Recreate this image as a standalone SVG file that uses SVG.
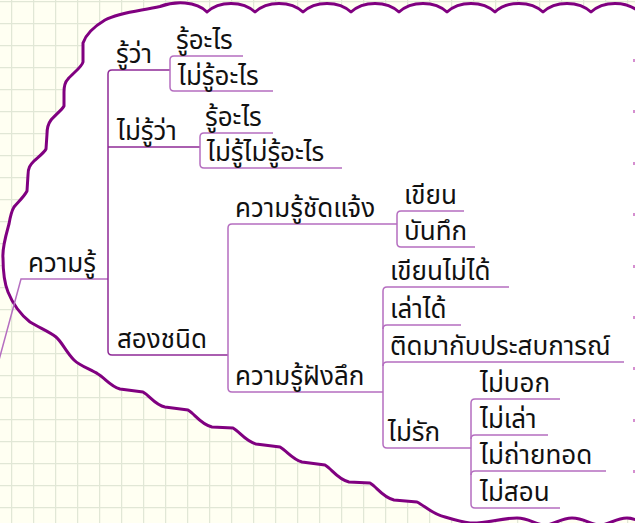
<svg xmlns="http://www.w3.org/2000/svg" width="635" height="523" viewBox="0 0 635 523">
<defs>
<pattern id="grid" x="11" y="1" width="22" height="22" patternUnits="userSpaceOnUse">
<path d="M0.5,0 V22 M0,0.5 H22" fill="none" stroke="#e1e7d6" stroke-width="1.5"/>
</pattern>
<style>
.t{font-family:Tahoma,"Noto Sans Thai","Noto Sans","DejaVu Sans",sans-serif;font-size:26px;fill:#111}
.d{fill:none;stroke:#8e2a96;stroke-width:1.5}
.l{fill:none;stroke:#b56ec0;stroke-width:1.5}
.dot{fill:#d58fd0}
</style>
</defs>
<rect width="635" height="523" fill="#fffff2"/>
<rect width="635" height="523" fill="url(#grid)"/>
<path id="cloud" fill="#fff" stroke="#800080" stroke-width="3" stroke-linejoin="round" d="M83,43 L83,62 C82,67 72,74 68,79 C65,82 64,86 64,92 L64,106 C62,110 54,116 51,120 C48,124 47,128 47,134 L46,149 C44,153 37,158 34,161 C30,165 28,168 28,175 L27,191 C24,197 17,203 14,207 C11,212 10,218 9,224 C6,235 2,248 3,258 C3,270 4,282 8,292 C12,302 20,314 30,322 C40,328 50,332 56,337 C62,342 66,352 74,360 C80,366 90,369 98,374 C105,378 110,386 120,389 L143,392 C150,396 155,405 165,407 L188,410 C195,414 200,424 212,427 L233,428 C240,432 245,441 256,444 L280,447 C287,451 292,459 302,462 L325,465 C332,469 337,479 349,482 L370,483 C377,487 382,497 394,500 L417,502 C425,506 432,514 445,517 C455,520 462,522 470,523 C485,524 500,518 517,518 C530,518 535,525 545,525 C555,525 560,518 572,518 C585,518 590,525 600,525 C610,525 615,518 627,518 C635,518 640,522 645,524 L645,10 L639,12 C627,0.5 603,0.5 591,12 C579,0.5 555,0.5 543,12 C531,0.5 507,0.5 495,12 C483,0.5 459,0.5 447,12 C435,0.5 411,0.5 399,12 C387,0.5 363,0.5 351,12 C339,0.5 315,0.5 303,12 C291,0.5 267,0.5 255,12 C243,0.5 219,0.5 207,12 C196,1 175,1 160,6.5 C140,11 120,12 105,20 C95,26 86,34 83,43 Z"/>
<g id="connectors">
<path class="l" d="M108,279 L21,279 L-1,360"/>
<path class="d" d="M170,70 L112,70 Q108,70 108,74 L108,351 Q108,355 112,355 L228,355"/>
<path class="d" d="M108,147 L200,147"/>
<path class="l" d="M243,56 L174,56 Q170,56 170,60 L170,87 Q170,91 174,91 L273,91"/>
<path class="l" d="M273,133 L204,133 Q200,133 200,137 L200,164 Q200,168 204,168 L342,168"/>
<path class="l" d="M397,224 L232,224 Q228,224 228,228 L228,388 Q228,392 232,392 L383,392"/>
<path class="l" d="M464,211 L401,211 Q397,211 397,215 L397,243 Q397,247 401,247 L475,247"/>
<path class="l" d="M509,287 L387,287 Q383,287 383,291 L383,444 Q383,448 387,448 L471,448"/>
<path class="l" d="M383,329 Q383,325 387,325 L461,325 M383,366 Q383,362 387,362 L624,362"/>
<path class="l" d="M560,399 L475,399 Q471,399 471,403 L471,504 Q471,508 475,508 L560,508"/>
<path class="l" d="M471,439 Q471,435 475,435 L548,435 M471,475 Q471,471 475,471 L606,471"/>
</g>
<g id="n-khwamru"><text class="t" x="28" y="272">ความรู้</text></g>
<g id="n-ruwa"><text class="t" x="116" y="63">รู้ว่า</text></g>
<g id="n-ruarai1"><text class="t" x="176" y="49">รู้อะไร</text></g>
<g id="n-mairuarai"><text class="t" x="178" y="85">ไม่รู้อะไร</text></g>
<g id="n-mairuwa"><text class="t" x="117" y="140">ไม่รู้ว่า</text></g>
<g id="n-ruarai2"><text class="t" x="205" y="126">รู้อะไร</text></g>
<g id="n-mairumairuarai"><text class="t" x="207" y="161">ไม่รู้ไม่รู้อะไร</text></g>
<g id="n-songchanid"><text class="t" x="117" y="348">สองชนิด</text></g>
<g id="n-explicit"><text class="t" x="235" y="217">ความรู้ชัดแจ้ง</text></g>
<g id="n-khian"><text class="t" x="404" y="204">เขียน</text></g>
<g id="n-bantuk"><text class="t" x="404" y="240">บันทึก</text></g>
<g id="n-tacit"><text class="t" x="235" y="385">ความรู้ฝังลึก</text></g>
<g id="n-khianmaidai"><text class="t" x="390" y="280">เขียนไม่ได้</text></g>
<g id="n-laodai"><text class="t" x="390" y="318">เล่าได้</text></g>
<g id="n-tidma"><text class="t" x="390" y="355">ติดมากับประสบการณ์</text></g>
<g id="n-mairak"><text class="t" x="388" y="441">ไม่รัก</text></g>
<g id="n-maibok"><text class="t" x="480" y="392">ไม่บอก</text></g>
<g id="n-mailao"><text class="t" x="480" y="428">ไม่เล่า</text></g>
<g id="n-maithaithot"><text class="t" x="480" y="464">ไม่ถ่ายทอด</text></g>
<g id="n-maison"><text class="t" x="480" y="501">ไม่สอน</text></g>
<g id="edge-marks">
<rect class="dot" x="633" y="59" width="2" height="3"/>
<rect class="dot" x="633" y="110" width="2" height="3"/>
<rect class="dot" x="633" y="162" width="2" height="3"/>
<rect class="dot" x="633" y="213" width="2" height="3"/>
<rect class="dot" x="633" y="265" width="2" height="3"/>
<rect class="dot" x="633" y="316" width="2" height="3"/>
<rect class="dot" x="633" y="367" width="2" height="3"/>
<rect class="dot" x="633" y="419" width="2" height="3"/>
<rect class="dot" x="633" y="470" width="2" height="3"/>
</g>
</svg>
